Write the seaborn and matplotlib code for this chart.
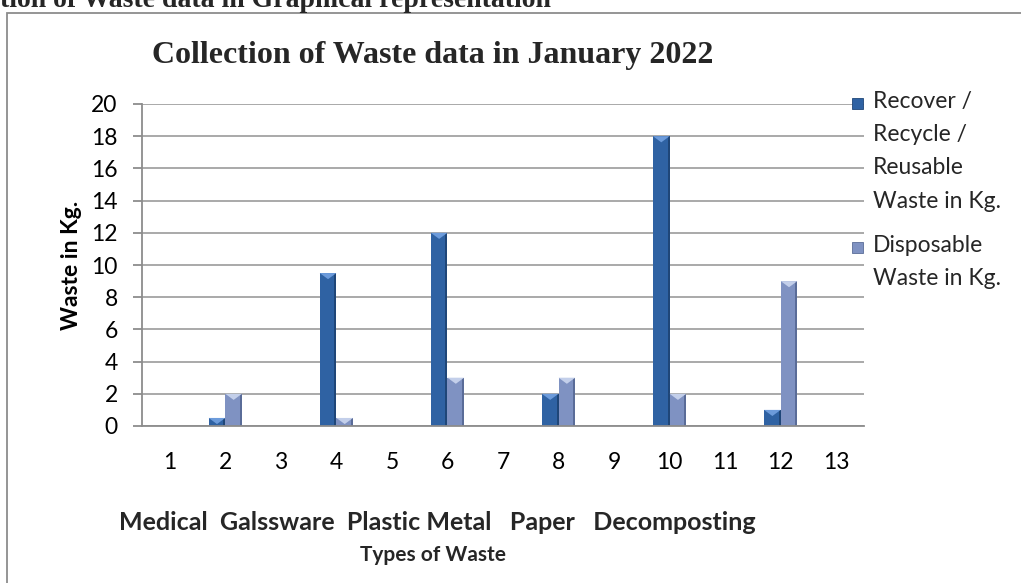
import matplotlib
matplotlib.use("Agg")
import matplotlib.pyplot as plt
import seaborn as sns
import pandas as pd
from matplotlib.patches import Rectangle, Polygon

# Data
positions = list(range(1, 14))
recover = [0, 0.5, 0, 9.5, 0, 12, 0, 2, 0, 18, 0, 1, 0]
disposable = [0, 2, 0, 0.5, 0, 3, 0, 3, 0, 2, 0, 9, 0]
series_names = ["Recover / Recycle / Reusable Waste in Kg.", "Disposable Waste in Kg."]
legend_labels = ["Recover /\nRecycle /\nReusable\nWaste in Kg.", "Disposable\nWaste in Kg."]
y_ticks = list(range(0, 21, 2))
waste_types = "Medical  Galssware  Plastic Metal   Paper   Decomposting"
x_title = "Types of Waste"
y_title = "Waste in Kg."
chart_title = "Collection of Waste data in January 2022"
heading = "tion of Waste data in Graphical representation"

W, H = 1021, 583
sns.set_theme(style="white")
plt.rcParams["font.family"] = ["Lato", "DejaVu Sans"]
SERIF = ["Liberation Serif", "DejaVu Serif"]
FS = 16.5

fig = plt.figure(figsize=(W / 100, H / 100), dpi=100)
ax = fig.add_axes([142 / W, 1 - 426 / H, 722 / W, 322 / H])

df = pd.DataFrame({
    "pos": positions * 2,
    "kg": recover + disposable,
    "series": [series_names[0]] * len(positions) + [series_names[1]] * len(positions),
})
colors = ["#2F62A3", "#7F92C2"]
tops = ["#6C9BDB", "#C3CFEA"]
sides = ["#1F4678", "#5A6C98"]

sns.barplot(data=df, x="pos", y="kg", hue="series", order=positions,
            hue_order=series_names, palette=colors, width=0.6, linewidth=0,
            saturation=1, legend=False, ax=ax)

# bevelled look: darker right side and a light notch on top of each bar
for patch in list(ax.patches):
    h = patch.get_height()
    if h <= 0:
        patch.set_visible(False)
        continue
    fc = patch.get_facecolor()
    idx = 0 if abs(fc[0] - matplotlib.colors.to_rgba(colors[0])[0]) < 0.02 else 1
    x0, w = patch.get_x(), patch.get_width()
    sw = w * 0.12
    ax.add_patch(Rectangle((x0 + w - sw, 0), sw, h, color=sides[idx], lw=0,
                           zorder=patch.get_zorder() + 0.1))
    th = min(0.38, h)
    ax.add_patch(Polygon([(x0, h), (x0 + w, h), (x0 + w / 2, h - th)], closed=True,
                         color=tops[idx], lw=0, zorder=patch.get_zorder() + 0.2))

ax.set_ylim(0, 20)
ax.set_yticks(y_ticks)
ax.set_yticklabels([str(v) for v in y_ticks])
ax.yaxis.grid(True, color="#A3A3A3", lw=1.3)
ax.xaxis.grid(False)
ax.set_axisbelow(True)
for s in ["top", "right"]:
    ax.spines[s].set_visible(False)
for s in ["left", "bottom"]:
    ax.spines[s].set_color("#8C8C8C")
    ax.spines[s].set_linewidth(1.3)
ax.tick_params(axis="y", direction="out", length=6.5, width=1.3, color="#8C8C8C",
               pad=11, labelsize=FS, labelcolor="black", left=True)
ax.tick_params(axis="x", length=0, pad=19, labelsize=FS, labelcolor="black")
ax.set_xlabel("")
ax.set_ylabel(y_title, fontsize=FS, fontweight="bold", color="black")
ax.yaxis.set_label_coords(-0.083, 0.5)

# legend
lx = 852 / W
for i, (lab, yc) in enumerate(zip(legend_labels, [103, 247])):
    fig.patches.append(Rectangle((lx, 1 - (yc + 5.5) / H), 11 / W, 11 / H,
                                 transform=fig.transFigure, facecolor=colors[i],
                                 edgecolor=sides[i], lw=0.6))
    fig.text(873 / W, 1 - (yc - 12) / H, lab, fontsize=FS, va="top", ha="left",
             linespacing=1.72)

# texts around the plot
fig.text(433 / W, 1 - 63 / H, chart_title, family=SERIF, fontsize=23,
         fontweight="bold", ha="center", va="baseline")
fig.text(437 / W, 1 - 522 / H, waste_types, fontsize=18, fontweight="bold",
         ha="center", va="center")
fig.text(433 / W, 1 - 555 / H, x_title, fontsize=15, fontweight="bold",
         ha="center", va="center")
fig.text(0, 1 - 7 / H, heading, family=SERIF, fontsize=20, fontweight="bold",
         ha="left", va="baseline")

# frame around the chart
fig.patches.append(Rectangle((7 / W, -0.1), 1.2, 1 - 13 / H + 0.1,
                             transform=fig.transFigure, fill=False,
                             edgecolor="#8C8C8C", lw=1.3))

fig.savefig("out.png", dpi=100)
